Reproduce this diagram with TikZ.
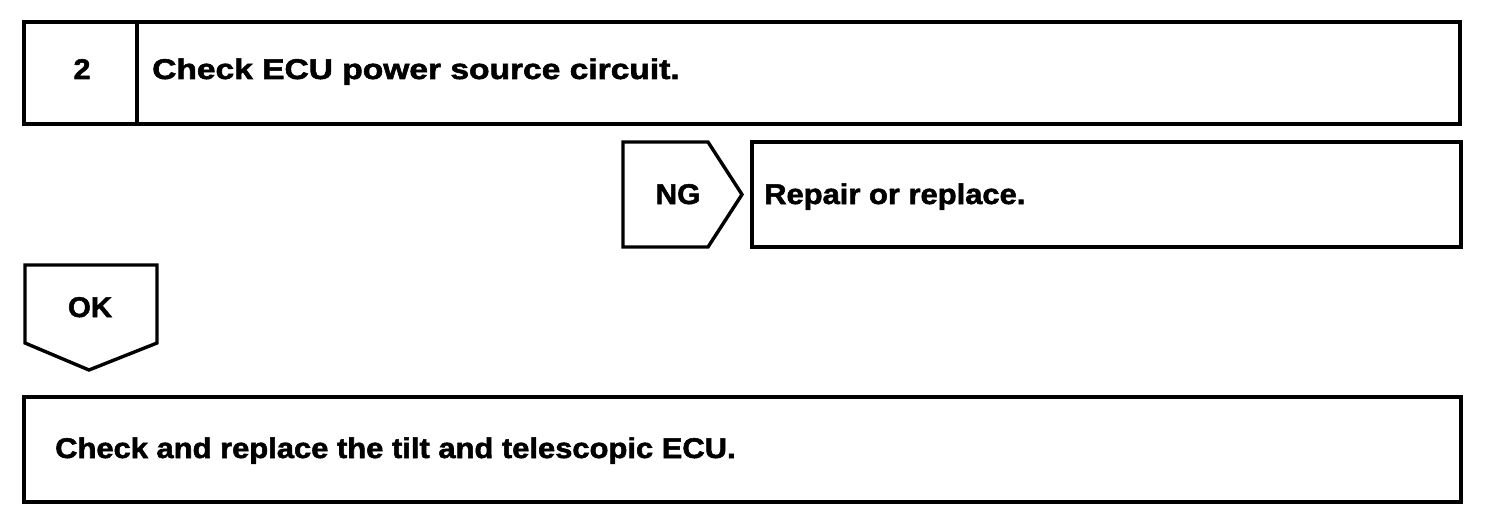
\documentclass[tikz,border=0pt]{standalone}
\usepackage{fontspec}
\newfontfamily\hb{Liberation Sans Bold}[FakeBold=1.8]
\begin{document}
\begin{tikzpicture}[x=1pt,y=-1pt,
  box/.style={draw=black,line width=3.4pt,line join=miter},
  lbl/.style={inner sep=0pt,font=\hb\fontsize{28.5}{30}\selectfont}]
\useasboundingbox (0,0) rectangle (1504,524);
% top step box
\draw[box] (24,22) rectangle (1460,124);
\draw[box] (137,22) -- (137,124);
\node[lbl,anchor=base] (num) at (82,79) {\scalebox{1.07}[1]{2}};
\node[lbl,anchor=base west] (title) at (152,79) {\scalebox{1.177}[1]{Check ECU power source circuit.}};
% NG arrow
\draw[box] (623,142) -- (708,142) -- (742,194.5) -- (708,247) -- (623,247) -- cycle;
\node[lbl,anchor=base] (ng) at (678,204) {\scalebox{1.05}[1]{NG}};
\draw[box] (752,142) rectangle (1461,247);
\node[lbl,anchor=base west] (repair) at (764,204) {\scalebox{1.085}[1]{Repair or replace.}};
% OK arrow
\draw[box] (25,265) -- (157,265) -- (157,343) -- (89,370) -- (25,343) -- cycle;
\node[lbl,anchor=base] (ok) at (90,317) {\scalebox{1.03}[1]{OK}};
% bottom box
\draw[box] (24,397) rectangle (1461,502);
\node[lbl,anchor=base west] (final) at (55,458) {\scalebox{1.085}[1]{Check and replace the tilt and telescopic ECU.}};
\end{tikzpicture}
\end{document}
